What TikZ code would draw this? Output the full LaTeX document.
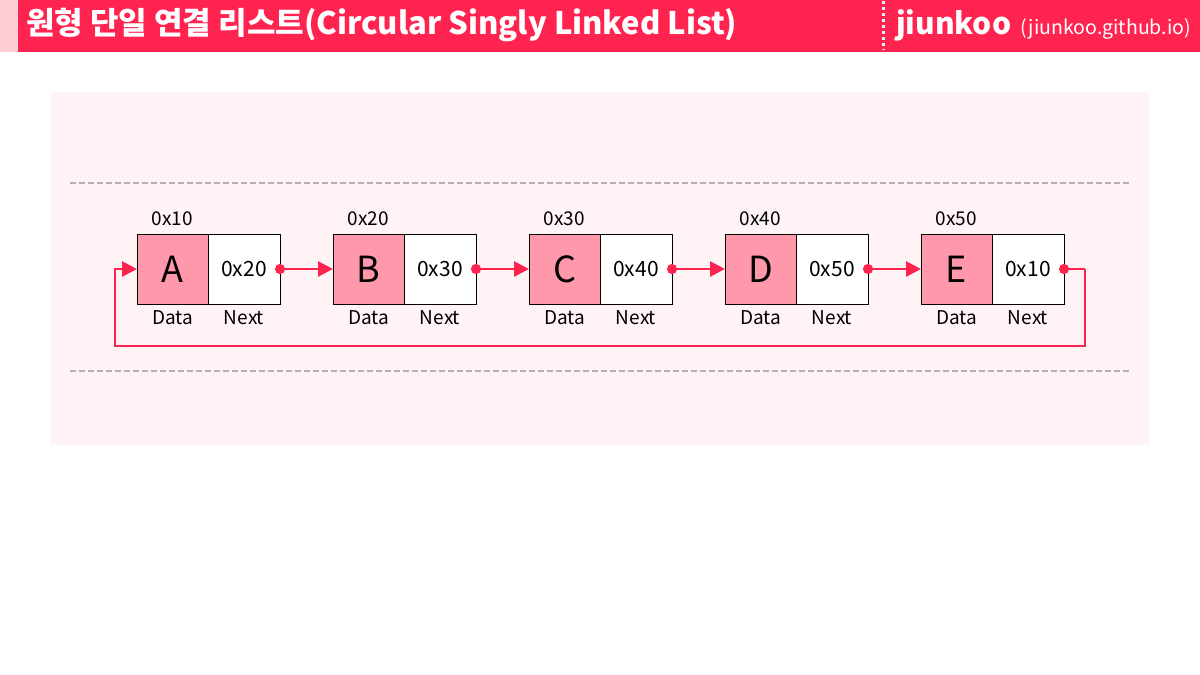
\documentclass[tikz,border=0pt]{standalone}
\usepackage{fontspec}
\setmainfont{Noto Sans CJK KR}
\usepackage{tikz}
\usetikzlibrary{arrows.meta,positioning}

\definecolor{hdred}{HTML}{FF2350}
\definecolor{hdpink}{HTML}{FFCDD6}
\definecolor{panel}{HTML}{FFF3F5}
\definecolor{datafill}{HTML}{FF98AA}
\definecolor{rule}{HTML}{B8B0B2}

\tikzset{
  databox/.style={draw=black, line width=0.9pt, fill=datafill, minimum width=71pt,
    minimum height=70pt, inner sep=0pt, outer sep=0pt, font=\fontsize{36}{38}\selectfont},
  nextbox/.style={draw=black, line width=0.9pt, fill=white, minimum width=72pt,
    minimum height=70pt, inner sep=0pt, outer sep=0pt, font=\fontsize{21}{23}\selectfont},
  addr/.style={font=\fontsize{19}{21}\selectfont, inner sep=0pt},
  part/.style={font=\fontsize{19}{21}\selectfont, inner sep=0pt},
  link/.style={draw=hdred, line width=2.8pt, {Circle[length=10pt]}-{Triangle[length=15pt,width=15pt]},
    shorten <=-5pt},
  back/.style={draw=hdred, line width=2.8pt, -{Triangle[length=15pt,width=15pt]}},
}

\begin{document}
\begin{tikzpicture}[x=1pt,y=-1pt]
  \useasboundingbox (0,0) rectangle (1200,675);

  % header
  \fill[hdpink] (0,0) rectangle (18,52);
  \fill[hdred] (18,0) rectangle (1200,52);
  \draw[white!85!cyan, line width=3pt, dash pattern=on 3pt off 3pt] (883,1) -- (883,50);
  \node[anchor=west, text=white, inner sep=0pt, font=\bfseries\fontsize{31}{33}\selectfont]
    (title) at (26,25) {원형 단일 연결 리스트(Circular Singly Linked List)};
  \node[anchor=west, text=white, inner sep=0pt, font=\bfseries\fontsize{30}{32}\selectfont]
    (brand) at (896,25) {jiunkoo};
  \node[anchor=base west, text=white, inner sep=0pt, font=\fontsize{19.5}{21}\selectfont]
    (site) at ([xshift=9pt]brand.base east) {(jiunkoo.github.io)};

  % panel
  \fill[panel] (51,92) rectangle (1149,445);
  \draw[rule, line width=1.5pt, dash pattern=on 6pt off 3pt] (70,183) -- (1131,183);
  \draw[rule, line width=1.5pt, dash pattern=on 6pt off 3pt] (70,371) -- (1131,371);

  % list nodes
  \node[databox] (A) at (172.5,269) {A};
  \node[databox] (B) at (368.5,269) {B};
  \node[databox] (C) at (564.5,269) {C};
  \node[databox] (D) at (760.5,269) {D};
  \node[databox] (E) at (956.5,269) {E};

  \node[nextbox, right=0pt of A] (An) {0x20};
  \node[nextbox, right=0pt of B] (Bn) {0x30};
  \node[nextbox, right=0pt of C] (Cn) {0x40};
  \node[nextbox, right=0pt of D] (Dn) {0x50};
  \node[nextbox, right=0pt of E] (En) {0x10};

  \foreach \n/\a in {A/0x10,B/0x20,C/0x30,D/0x40,E/0x50}{
    \node[addr, above=8pt of \n] (\n addr) {\a};
    \node[part, below=6pt of \n] (\n data) {Data};
    \node[part, below=6pt of \n n] (\n next) {Next};
  }

  % links
  \path[link] (An.east) -- (B.west);
  \path[link] (Bn.east) -- (C.west);
  \path[link] (Cn.east) -- (D.west);
  \path[link] (Dn.east) -- (E.west);

  \coordinate (r1) at (1085,269);
  \coordinate (r2) at (1085,346);
  \coordinate (r3) at (115,346);
  \coordinate (r4) at (115,269);
  \path[draw=hdred, line width=2.8pt, {Circle[length=10pt]}-, shorten <=-5pt] (En.east) -- (r1);
  \path[back] (r1) -- (r2) -- (r3) -- (r4) -- (A.west);
\end{tikzpicture}
\end{document}
